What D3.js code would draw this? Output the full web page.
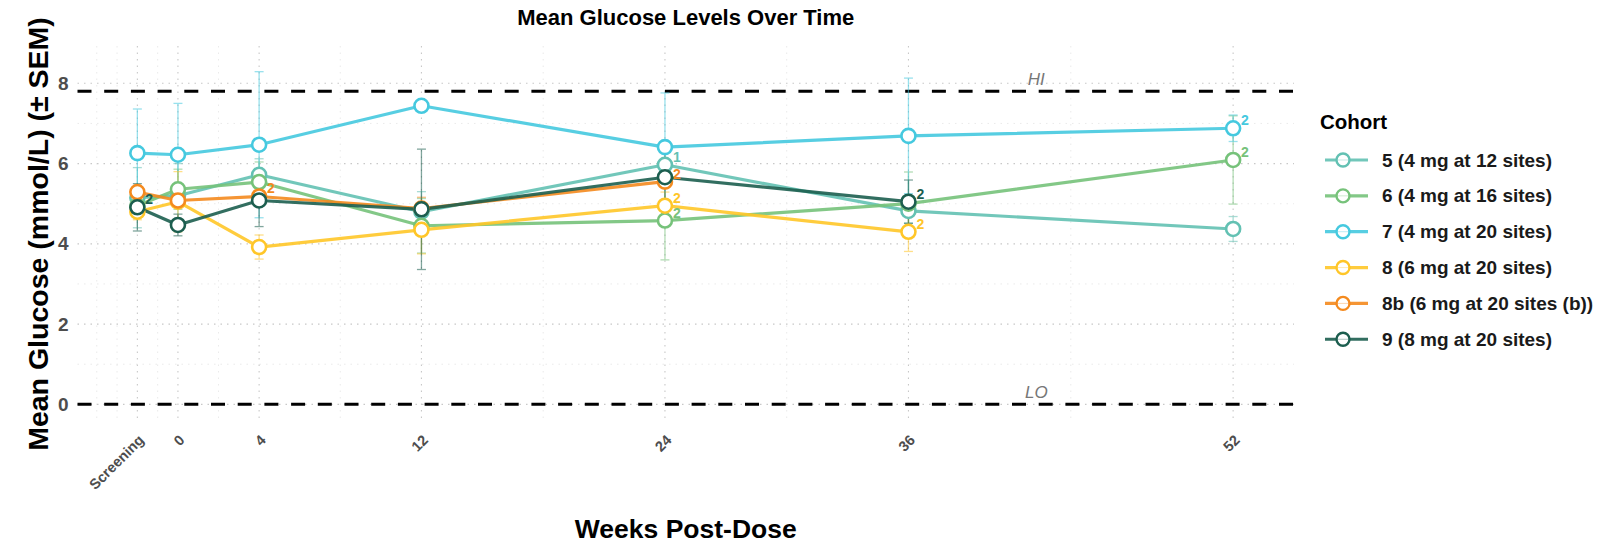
<!DOCTYPE html>
<html>
<head>
<meta charset="utf-8">
<script src="https://cdn.jsdelivr.net/npm/d3@7"></script>
<style>
  body { margin: 0; background: #fff; }
  svg text { font-family: "Liberation Sans", Arial, sans-serif; }
</style>
</head>
<body>
<div id="chart"></div>
<script>
// week categories (Screening sits at week -2 on the axis)
var weekLabels = ["Screening", "0", "4", "12", "24", "36", "52"];
var weekValues = [-2, 0, 4, 12, 24, 36, 52];

var cohortNames = ["5 (4 mg at 12 sites)", "6 (4 mg at 16 sites)", "7 (4 mg at 20 sites)",
                   "8 (6 mg at 20 sites)", "8b (6 mg at 20 sites (b))", "9 (8 mg at 20 sites)"];
var cohortColors = ["#63c1b3", "#76c27a", "#45c9df", "#ffc628", "#f48a1e", "#1c5e4f"];

// mean glucose (mmol/L), one value per week, null = not measured
var mean5  = [5.15, 5.20, 5.72, 4.80, 5.97, 4.82, 4.37];
var mean6  = [4.95, 5.36, 5.54, 4.45, 4.58, 5.00, 6.09];
var mean7  = [6.26, 6.22, 6.47, 7.44, 6.41, 6.69, 6.88];
var mean8  = [4.80, 5.05, 3.92, 4.35, 4.95, 4.30, null];
var mean8b = [5.29, 5.08, 5.18, 4.88, 5.55, null, null];
var mean9  = [4.91, 4.47, 5.08, 4.86, 5.66, 5.05, null];

// SEM, null = single subject (no bar)
var sem5  = [0.75, 0.80, 0.40, 0.50, null, 0.30, 0.31];
var sem6  = [0.30, 0.50, 0.50, 0.68, 0.98, 0.79, 1.10];
var sem7  = [1.10, 1.28, 1.82, null, 1.35, 1.44, 0.33];
var sem8  = [0.20, 0.75, 0.30, 0.60, 0.34, 0.49, null];
var sem8b = [0.15, 0.15, 0.20, 0.28, 0.15, null, null];
var sem9  = [0.59, 0.27, 0.65, 1.50, 0.66, 0.54, null];

// small-n annotations: cohort index, week index, n
var nCohort = [5, 4, 0, 4, 3, 1, 5, 3, 2, 1];
var nWeek   = [0, 2, 4, 4, 4, 4, 5, 5, 6, 6];
var nValue  = [2, 2, 1, 2, 2, 2, 2, 2, 2, 2];

var refValues = [7.8, 0];
var refLabels = ["HI", "LO"];
var refLabelWeek = 42.3;

var yMajor = [0, 2, 4, 6, 8];
var yMinor = [1, 3, 5, 7];
var xMinor = [-4, -3, -1, 2, 8, 18, 30, 44];

var means = [mean5, mean6, mean7, mean8, mean8b, mean9];
var sems = [sem5, sem6, sem7, sem8, sem8b, sem9];

var width = 1620, height = 543;
var panel = { left: 77.5, right: 1294, top: 46, bottom: 422 };

var x = d3.scaleLinear().domain([-4.95, 55]).range([panel.left, panel.right]);
var y = d3.scaleLinear().domain([-0.44, 8.93]).range([panel.bottom, panel.top]);

var svg = d3.select("#chart").append("svg")
  .attr("width", width)
  .attr("height", height);

// build series
var series = cohortNames.map(function (name, i) {
  var pts = [];
  weekValues.forEach(function (w, j) {
    if (means[i][j] != null) pts.push({ week: w, mean: means[i][j], sem: sems[i][j] });
  });
  return { name: name, color: cohortColors[i], points: pts };
});

/** GRID **/
var grid = svg.append("g");
grid.selectAll(".yminor").data(yMinor).enter().append("line")
  .attr("x1", panel.left).attr("x2", panel.right)
  .attr("y1", function (d) { return y(d); }).attr("y2", function (d) { return y(d); })
  .attr("stroke", "#e4e4e4").attr("stroke-width", 0.8).attr("stroke-dasharray", "1.5 5");
grid.selectAll(".xminor").data(xMinor).enter().append("line")
  .attr("y1", panel.top).attr("y2", panel.bottom)
  .attr("x1", function (d) { return x(d); }).attr("x2", function (d) { return x(d); })
  .attr("stroke", "#e4e4e4").attr("stroke-width", 0.8).attr("stroke-dasharray", "1.5 5");
grid.selectAll(".ymajor").data(yMajor).enter().append("line")
  .attr("x1", panel.left).attr("x2", panel.right)
  .attr("y1", function (d) { return y(d); }).attr("y2", function (d) { return y(d); })
  .attr("stroke", "#c8c8c8").attr("stroke-width", 1.1).attr("stroke-dasharray", "1.5 5");
grid.selectAll(".xmajor").data(weekValues).enter().append("line")
  .attr("y1", panel.top).attr("y2", panel.bottom)
  .attr("x1", function (d) { return x(d); }).attr("x2", function (d) { return x(d); })
  .attr("stroke", "#c8c8c8").attr("stroke-width", 1.1).attr("stroke-dasharray", "1.5 5");

/** AXES (text only, theme_minimal style) **/
var yAxis = d3.axisLeft(y).tickValues(yMajor).tickSize(0).tickPadding(9);
var yg = svg.append("g").attr("transform", "translate(" + panel.left + ",0)").call(yAxis);
yg.select(".domain").remove();
yg.selectAll("text")
  .attr("font-size", 19).attr("font-weight", "bold").attr("fill", "#4d4d4d");

var xAxis = d3.axisBottom(x).tickValues(weekValues).tickSize(0)
  .tickFormat(function (d, i) { return weekLabels[i]; });
var xg = svg.append("g").attr("transform", "translate(0," + panel.bottom + ")").call(xAxis);
xg.select(".domain").remove();
xg.selectAll("text")
  .attr("font-size", 14.5).attr("font-weight", "bold").attr("fill", "#4d4d4d")
  .attr("text-anchor", "end")
  .attr("dy", null).attr("y", null)
  .attr("transform", "translate(7,19) rotate(-45)");

/** REFERENCE LINES **/
var refs = svg.append("g");
refs.selectAll("line").data(refValues).enter().append("line")
  .attr("x1", panel.left).attr("x2", panel.right)
  .attr("y1", function (d) { return y(d); }).attr("y2", function (d) { return y(d); })
  .attr("stroke", "#000").attr("stroke-width", 3).attr("stroke-dasharray", "14 12.7");
refs.selectAll("text").data(refValues).enter().append("text")
  .attr("x", x(refLabelWeek))
  .attr("y", function (d) { return y(d) - 6; })
  .attr("text-anchor", "middle")
  .attr("font-size", 17).attr("font-style", "italic").attr("fill", "#777")
  .text(function (d, i) { return refLabels[i]; });

/** ERROR BARS **/
var capHalf = 4.5;
series.forEach(function (s) {
  var g = svg.append("g").attr("stroke", s.color).attr("stroke-width", 1.3).attr("opacity", 0.55);
  s.points.filter(function (p) { return p.sem != null; }).forEach(function (p) {
    var cx = x(p.week), top = y(p.mean + p.sem), bot = y(p.mean - p.sem);
    g.append("line").attr("x1", cx).attr("x2", cx).attr("y1", top).attr("y2", bot);
    g.append("line").attr("x1", cx - capHalf).attr("x2", cx + capHalf).attr("y1", top).attr("y2", top);
    g.append("line").attr("x1", cx - capHalf).attr("x2", cx + capHalf).attr("y1", bot).attr("y2", bot);
  });
});

/** LINES **/
var line = d3.line()
  .x(function (d) { return x(d.week); })
  .y(function (d) { return y(d.mean); });

series.forEach(function (s) {
  svg.append("path")
    .datum(s.points)
    .attr("fill", "none")
    .attr("stroke", s.color)
    .attr("stroke-width", 3.2)
    .attr("stroke-opacity", 0.9)
    .attr("stroke-linejoin", "round")
    .attr("d", line);
});

/** POINTS **/
series.forEach(function (s) {
  svg.append("g").selectAll("circle").data(s.points).enter().append("circle")
    .attr("cx", function (d) { return x(d.week); })
    .attr("cy", function (d) { return y(d.mean); })
    .attr("r", 7)
    .attr("fill", "#fff")
    .attr("stroke", s.color)
    .attr("stroke-width", 2.6);
});

/** n LABELS **/
svg.append("g").selectAll("text").data(nValue).enter().append("text")
  .attr("x", function (d, i) { return x(weekValues[nWeek[i]]) + 8; })
  .attr("y", function (d, i) { return y(means[nCohort[i]][nWeek[i]]) - 3; })
  .attr("font-size", 14).attr("font-weight", "bold")
  .attr("fill", function (d, i) { return cohortColors[nCohort[i]]; })
  .text(function (d) { return d; });

/** TITLES **/
svg.append("text")
  .attr("x", (panel.left + panel.right) / 2).attr("y", 25)
  .attr("text-anchor", "middle").attr("font-size", 22).attr("font-weight", "bold")
  .text("Mean Glucose Levels Over Time");

svg.append("text")
  .attr("x", (panel.left + panel.right) / 2).attr("y", 538)
  .attr("text-anchor", "middle").attr("font-size", 26.5).attr("font-weight", "bold")
  .text("Weeks Post-Dose");

svg.append("text")
  .attr("transform", "translate(48," + ((panel.top + panel.bottom) / 2) + ") rotate(-90)")
  .attr("text-anchor", "middle").attr("font-size", 28.5).attr("font-weight", "bold")
  .text("Mean Glucose (mmol/L) (\u00b1 SEM)");

/** LEGEND **/
var legend = svg.append("g").attr("transform", "translate(1320,0)");
legend.append("text")
  .attr("x", 0).attr("y", 129)
  .attr("font-size", 20.5).attr("font-weight", "bold")
  .text("Cohort");

var keys = legend.selectAll(".key").data(series).enter().append("g")
  .attr("transform", function (d, i) { return "translate(0," + (160 + i * 35.85) + ")"; });
keys.append("line")
  .attr("x1", 5).attr("x2", 48).attr("y1", 0).attr("y2", 0)
  .attr("stroke", function (d) { return d.color; }).attr("stroke-width", 3.2).attr("stroke-opacity", 0.9);
keys.append("circle")
  .attr("cx", 23).attr("cy", 0).attr("r", 6.5)
  .attr("fill", "#fff")
  .attr("stroke", function (d) { return d.color; }).attr("stroke-width", 2.4);
keys.append("line")
  .attr("x1", 17).attr("x2", 29).attr("y1", 0).attr("y2", 0)
  .attr("stroke", function (d) { return d.color; }).attr("stroke-width", 1).attr("stroke-opacity", 0.35);
keys.append("text")
  .attr("x", 62).attr("y", 6.5)
  .attr("font-size", 19).attr("font-weight", "bold").attr("fill", "#1a1a1a")
  .text(function (d) { return d.name; });
</script>
</body>
</html>
